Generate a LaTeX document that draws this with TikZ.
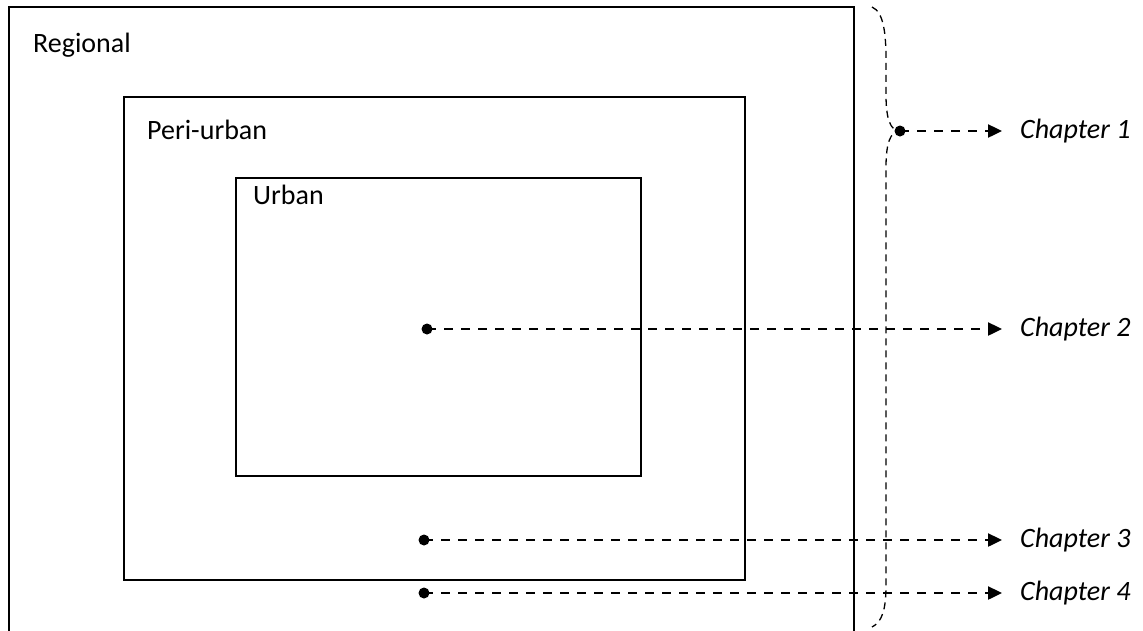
\documentclass[tikz,border=0pt]{standalone}
\usepackage{fontspec}
\setmainfont{Carlito}
\usetikzlibrary{arrows.meta}
\begin{document}
\begin{tikzpicture}[x=1pt,y=-1pt,
  box/.style={draw=black,line width=1.7pt},
  lbl/.style={anchor=west,inner sep=0pt,font=\fontsize{28}{33}\selectfont},
  chap/.style={anchor=west,inner sep=0pt,font=\fontsize{28}{33}\selectfont\itshape},
  arr/.style={line width=2.4pt,dash pattern=on 9pt off 8pt,-{Triangle[length=14pt,width=13pt]}},
  dotc/.style={fill=black,circle,inner sep=0pt,minimum size=11pt},
  brace/.style={line width=1.3pt,dash pattern=on 7pt off 5pt}]
\useasboundingbox (0,0) rectangle (1143,630);
% Regional (open at bottom)
\draw[box] (9,632) -- (9,7) -- (854,7) -- (854,632);
\node[lbl] (reg) at (33,45) {Regional};
% Peri-urban
\draw[box] (124,97) rectangle (745,580);
\node[lbl] (peri) at (147,130) {Peri-urban};
% Urban
\draw[box] (236,178) rectangle (641,476);
\node[lbl] (urb) at (253,195) {Urban};
% brace
\coordinate (btop) at (872,7);
\coordinate (btip) at (900,131);
\coordinate (bbot) at (872,627);
\draw[brace] (btop) .. controls (884,12) and (886,35) .. (886,60) -- (886,95)
  .. controls (886,118) and (890,131) .. (btip)
  .. controls (890,131) and (886,144) .. (886,167) -- (886,585)
  .. controls (886,610) and (882,622) .. (bbot);
% dots
\node[dotc] (d1) at (btip) {};
\node[dotc] (d2) at (427,329) {};
\node[dotc] (d3) at (424,540) {};
\node[dotc] (d4) at (424,593) {};
% labels
\node[chap] (c1) at (1020,131) {Chapter 1};
\node[chap] (c2) at (1020,329) {Chapter 2};
\node[chap] (c3) at (1020,540) {Chapter 3};
\node[chap] (c4) at (1020,593) {Chapter 4};
\foreach \i in {1,2,3,4}{
  \draw[arr] (d\i.center) -- ([xshift=-18pt]c\i.west);
}
\end{tikzpicture}
\end{document}
